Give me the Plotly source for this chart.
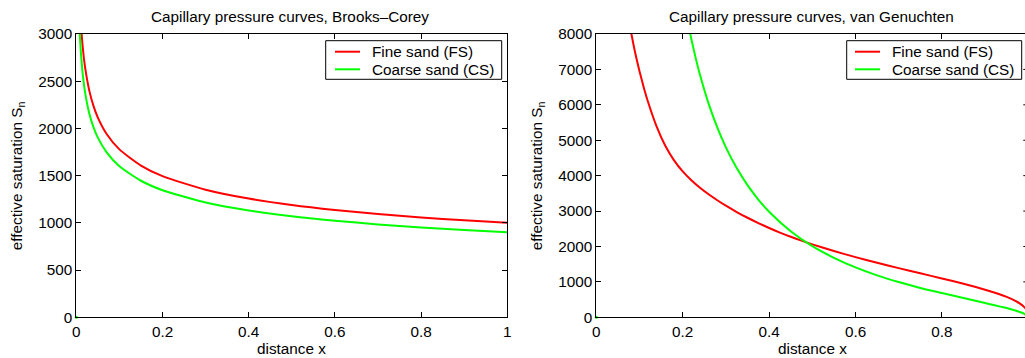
import plotly.graph_objects as go

# ---------------- data ----------------
# Brooks-Corey panel
bc_x = [0.005, 0.0075, 0.01, 0.015, 0.02, 0.03, 0.04, 0.05, 0.07, 0.1, 0.15,
        0.2, 0.3, 0.4, 0.5, 0.6, 0.7, 0.8, 0.9, 1.0]
bc_fs = [3761, 3398, 3162, 2857, 2659, 2403, 2236, 2115, 1944, 1778, 1607,
         1495, 1351, 1257, 1189, 1136, 1093, 1057, 1027, 1000]
bc_cs = [3385, 3058, 2846, 2572, 2393, 2162, 2012, 1903, 1750, 1600, 1446,
         1346, 1216, 1132, 1070, 1023, 984, 952, 924, 900]

# van Genuchten panel
vg_fs_x = [0.07, 0.08, 0.09, 0.1, 0.11, 0.12, 0.14, 0.16, 0.18, 0.2, 0.22,
           0.24, 0.26, 0.28, 0.3, 0.325, 0.35, 0.375, 0.4, 0.425, 0.45, 0.475,
           0.5, 0.55, 0.6, 0.65, 0.7, 0.75, 0.8, 0.85, 0.9, 0.93, 0.95, 0.97,
           0.98, 0.99, 0.995, 1.0]
vg_fs = [8850, 8090, 7470, 6950, 6485, 6073, 5377, 4835, 4432, 4119, 3871,
         3659, 3473, 3305, 3151, 2973, 2811, 2662, 2522, 2393, 2274, 2164,
         2060, 1871, 1699, 1540, 1389, 1243, 1097, 947, 780, 665, 575, 463,
         392, 295, 223, 0]
vg_cs_x = [0.2, 0.21, 0.22, 0.23, 0.24, 0.26, 0.28, 0.3, 0.325, 0.35, 0.375,
           0.4, 0.45, 0.5, 0.55, 0.6, 0.65, 0.7, 0.75, 0.8, 0.85, 0.9, 0.95,
           0.97, 0.98, 0.99, 1.0]
vg_cs = [9125, 8454, 7858, 7326, 6850, 6034, 5361, 4799, 4213, 3731, 3325,
         2982, 2430, 2008, 1680, 1410, 1185, 995, 830, 685, 545, 405, 260,
         190, 150, 105, 0]

series_names = ["Fine sand (FS)", "Coarse sand (CS)"]
titles = ["Capillary pressure curves, Brooks\u2013Corey",
          "Capillary pressure curves, van Genuchten"]
x_label = "distance x"
y_label = "effective saturation S<sub>n</sub>"
bc_yticks = [0, 500, 1000, 1500, 2000, 2500, 3000]
vg_yticks = [0, 1000, 2000, 3000, 4000, 5000, 6000, 7000, 8000]
x_ticks = [0, 0.2, 0.4, 0.6, 0.8, 1]
x_ticktext = ["0", "0.2", "0.4", "0.6", "0.8", "1"]

# ---------------- layout geometry ----------------
W, H = 1025, 358
FONT = "Liberation Sans, Arial, Helvetica, sans-serif"
RED, GREEN = "#ff0000", "#00ff00"
FS = 15.3


def px_x(p):
    return p / W


def px_y(p):
    return 1 - p / H


fig = go.Figure()

line_style = dict(width=2, shape="spline", smoothing=0.6)
fig.add_trace(go.Scatter(x=bc_x, y=bc_fs, mode="lines", name=series_names[0],
                         line=dict(color=RED, **line_style), xaxis="x", yaxis="y"))
fig.add_trace(go.Scatter(x=bc_x, y=bc_cs, mode="lines", name=series_names[1],
                         line=dict(color=GREEN, **line_style), xaxis="x", yaxis="y"))
fig.add_trace(go.Scatter(x=vg_fs_x, y=vg_fs, mode="lines", name=series_names[0],
                         line=dict(color=RED, **line_style), xaxis="x2", yaxis="y2"))
fig.add_trace(go.Scatter(x=vg_cs_x, y=vg_cs, mode="lines", name=series_names[1],
                         line=dict(color=GREEN, **line_style), xaxis="x2", yaxis="y2"))
# small green dot at the origin of both panels
for xa, ya in (("x", "y"), ("x2", "y2")):
    fig.add_trace(go.Scatter(x=[0], y=[0], mode="markers",
                             marker=dict(color=GREEN, size=3), cliponaxis=False,
                             xaxis=xa, yaxis=ya, hoverinfo="skip"))

axis_common = dict(showgrid=False, zeroline=False, showline=True,
                   linecolor="black", linewidth=1, ticks="inside", ticklen=5,
                   tickwidth=1, tickcolor="black", automargin=False,
                   tickfont=dict(family=FONT, size=FS, color="black"))

ydom = [px_y(317.3), px_y(34)]
fig.update_layout(
    width=W, height=H, margin=dict(l=0, r=0, t=0, b=0, pad=0),
    paper_bgcolor="white", plot_bgcolor="white", showlegend=False,
    font=dict(family=FONT, size=FS, color="black"),
    xaxis=dict(domain=[px_x(76.3), px_x(507.3)], range=[0, 1], tickvals=x_ticks,
               ticktext=x_ticktext, mirror="ticks", anchor="y", **axis_common),
    yaxis=dict(domain=ydom, range=[0, 3000], tickvals=bc_yticks, mirror="ticks",
               anchor="x", **axis_common),
    xaxis2=dict(domain=[px_x(596.3), 1.0], range=[0, (1025 - 596.3) / 432.0],
                tickvals=x_ticks, ticktext=x_ticktext, mirror="ticks",
                anchor="y2", **axis_common),
    yaxis2=dict(domain=ydom, range=[0, 8000], tickvals=vg_yticks, mirror=False,
                anchor="x2", **axis_common),
)

# right-hand mirror ticks of the second panel (its right border is just off-screen)
for v in vg_yticks[1:-1]:
    fig.add_shape(type="line", xref="paper", yref="y2", x0=px_x(1023.3), x1=1.0,
                  y0=v, y1=v, line=dict(color="black", width=1))

ann = []

# legends drawn as boxed keys (one per panel)
for (bx0, bx1, lx0, lx1, tx) in ((325.7, 501.7, 335, 360, 370),
                                 (846.7, 1021.7, 855, 880, 890)):
    fig.add_shape(type="rect", xref="paper", yref="paper", layer="above",
                  x0=px_x(bx0), x1=px_x(bx1), y0=px_y(79.3), y1=px_y(40.7),
                  line=dict(color="black", width=1), fillcolor="white")
    for name, col, yy in ((series_names[0], RED, 51.7), (series_names[1], GREEN, 69.3)):
        fig.add_shape(type="line", xref="paper", yref="paper", layer="above",
                      x0=px_x(lx0), x1=px_x(lx1), y0=px_y(yy), y1=px_y(yy),
                      line=dict(color=col, width=2))
        ann.append(dict(x=px_x(tx), y=px_y(yy), xref="paper", yref="paper",
                        text=name, showarrow=False, xanchor="left",
                        yanchor="middle",
                        font=dict(family=FONT, size=FS, color="black")))

# titles and axis labels
for cx, t in ((290.0, titles[0]), (811.0, titles[1])):
    ann.append(dict(x=px_x(cx), y=px_y(16.5), xref="paper", yref="paper", text=t,
                    showarrow=False, xanchor="center", yanchor="middle",
                    font=dict(family=FONT, size=FS, color="black")))
for cx in (291.5, 812.0):
    ann.append(dict(x=px_x(cx), y=px_y(348), xref="paper", yref="paper",
                    text=x_label, showarrow=False, xanchor="center",
                    yanchor="middle", font=dict(family=FONT, size=FS, color="black")))
for cx in (17.5, 537.5):
    ann.append(dict(x=px_x(cx), y=px_y(175.7), xref="paper", yref="paper",
                    text=y_label, showarrow=False, textangle=-90, xanchor="center",
                    yanchor="middle", font=dict(family=FONT, size=FS, color="black")))
fig.update_layout(annotations=ann)

fig.write_html("out.html")
